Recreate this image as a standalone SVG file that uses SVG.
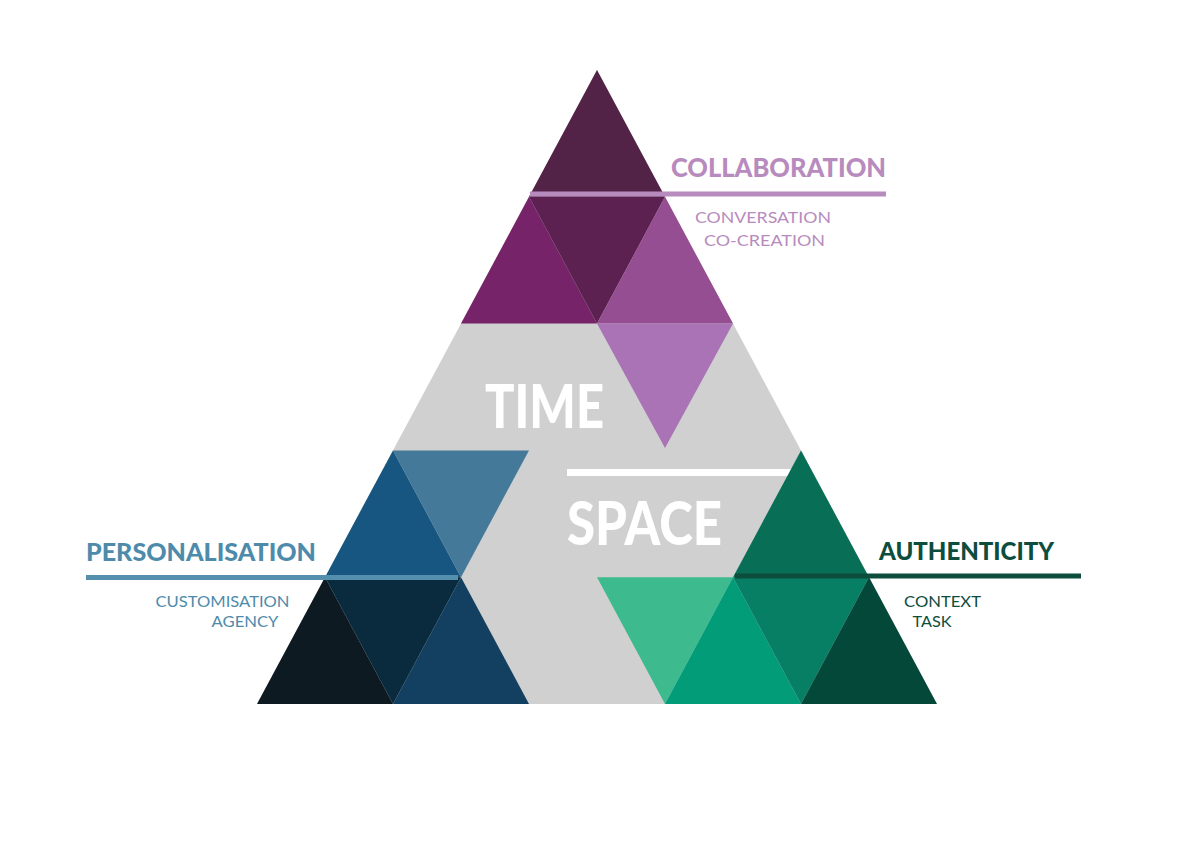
<svg xmlns="http://www.w3.org/2000/svg" width="1191" height="842" viewBox="0 0 1191 842">
<style>
.h{font-family:Lato,"Noto Sans","Liberation Sans",sans-serif;font-weight:900}
.s{font-family:Lato,"Noto Sans","Liberation Sans",sans-serif;font-weight:400;font-size:15.5px}
.big{font-family:Lato,"Noto Sans","Liberation Sans",sans-serif;font-weight:900;font-size:60px;fill:#fff}
.pur{fill:#B88BBE}
.blu{fill:#4E8BAB}
.grn{fill:#0D4D3D}
</style>
<rect width="1191" height="842" fill="#fff"/>
<g id="pyramid">
<polygon points="597,70 257,704 937,704" fill="#D0D0D0"/>
</g>
<g id="collaboration-triangles">
<polygon points="597,70 529,196.8 665,196.8" fill="#522346"/>
<polygon points="529,196.8 461,323.6 597,323.6" fill="#77236A"/>
<polygon points="529,196.8 665,196.8 597,323.6" fill="#5C2150"/>
<polygon points="665,196.8 597,323.6 733,323.6" fill="#954E92"/>
<polygon points="597,323.6 733,323.6 665,448" fill="#A973B5"/>
</g>
<g id="personalisation-triangles">
<polygon points="393,450.4 325,577.2 461,577.2" fill="#185682"/>
<polygon points="393,450.4 529,450.4 461,577.2" fill="#44799A"/>
<polygon points="325,577.2 257,704 393,704" fill="#0E1A22"/>
<polygon points="325,577.2 461,577.2 393,704" fill="#0A2B3D"/>
<polygon points="461,577.2 393,704 529,704" fill="#134060"/>
</g>
<g id="connectors">
<line x1="567" y1="472.5" x2="792" y2="472.5" stroke="#fff" stroke-width="7"/>
<line x1="530" y1="194" x2="886" y2="194" stroke="#B88BBE" stroke-width="5"/>
<line x1="86" y1="577.5" x2="458" y2="577.5" stroke="#5490AE" stroke-width="5"/>
</g>
<g id="authenticity-triangles">
<polygon points="801,450.4 733,577.2 869,577.2" fill="#086E56"/>
<polygon points="597,577.2 733,577.2 665,704" fill="#3DBB8F"/>
<polygon points="733,577.2 665,704 801,704" fill="#039C79"/>
<polygon points="733,577.2 869,577.2 801,704" fill="#067F65"/>
<polygon points="869,577.2 801,704 937,704" fill="#04483A"/>
<line x1="735" y1="576" x2="1081" y2="576" stroke="#0D4D3D" stroke-width="5"/>
</g>
<g id="time">
<text class="big" x="485" y="428" textLength="119" lengthAdjust="spacingAndGlyphs">TIME</text>
</g>
<g id="space">
<text class="big" x="567" y="545" textLength="155" lengthAdjust="spacingAndGlyphs">SPACE</text>
</g>
<g id="collaboration">
<text class="h pur" x="671" y="177" font-size="26" textLength="215" lengthAdjust="spacingAndGlyphs">COLLABORATION</text>
<text class="s pur" x="695" y="223" textLength="136" lengthAdjust="spacingAndGlyphs">CONVERSATION</text>
<text class="s pur" x="704" y="246" textLength="121" lengthAdjust="spacingAndGlyphs">CO-CREATION</text>
</g>
<g id="personalisation">
<text class="h blu" x="86" y="561" font-size="25" textLength="230" lengthAdjust="spacingAndGlyphs">PERSONALISATION</text>
<text class="s blu" x="155.5" y="607" textLength="134" lengthAdjust="spacingAndGlyphs">CUSTOMISATION</text>
<text class="s blu" x="211.5" y="627" textLength="67" lengthAdjust="spacingAndGlyphs">AGENCY</text>
</g>
<g id="authenticity">
<text class="h grn" x="879" y="560" font-size="25" textLength="175" lengthAdjust="spacingAndGlyphs">AUTHENTICITY</text>
<text class="s grn" x="904" y="607" textLength="77" lengthAdjust="spacingAndGlyphs">CONTEXT</text>
<text class="s grn" x="912.5" y="627" textLength="39" lengthAdjust="spacingAndGlyphs">TASK</text>
</g>
</svg>
